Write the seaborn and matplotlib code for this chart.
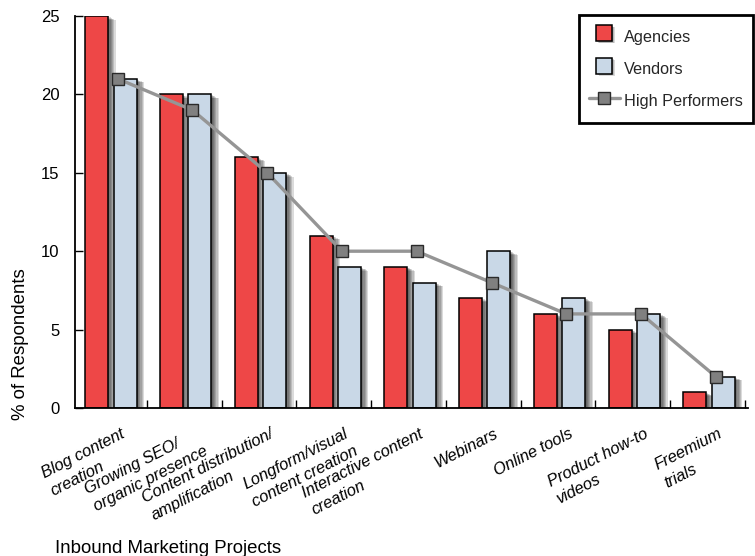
import numpy as np
import pandas as pd
import matplotlib
matplotlib.use("Agg")
import matplotlib.pyplot as plt
import matplotlib.patheffects as pe
from matplotlib.lines import Line2D
import seaborn as sns

# Inbound marketing projects and share of respondents (%)
projects = [
    "Blog content\ncreation",
    "Growing SEO/\norganic presence",
    "Content distribution/\namplification",
    "Longform/visual\ncontent creation",
    "Interactive content\ncreation",
    "Webinars",
    "Online tools",
    "Product how-to\nvideos",
    "Freemium\ntrials",
]
agencies = [25, 20, 16, 11, 9, 7, 6, 5, 1]
vendors = [21, 20, 15, 9, 8, 10, 7, 6, 2]
high_performers = [21, 19, 15, 10, 10, 8, 6, 6, 2]
y_ticks = [0, 5, 10, 15, 20, 25]
series_names = ["Agencies", "Vendors", "High Performers"]

RED = "#EE4747"
BLUE = "#C9D8E7"
LINE_GRAY = "#959595"
MARKER_GRAY = "#808080"

sns.set_theme(style="white")
plt.rcParams["font.family"] = ["Liberation Sans", "DejaVu Sans"]

df = pd.DataFrame({
    "project": projects * 2,
    "group": [series_names[0]] * len(projects) + [series_names[1]] * len(projects),
    "pct": agencies + vendors,
})

fig = plt.figure(figsize=(7.55, 5.56), dpi=100)
ax = fig.add_axes([75 / 755, 148 / 556, 673 / 755, 392 / 556])

sns.barplot(
    data=df, x="project", y="pct", hue="group",
    order=projects, hue_order=series_names[:2],
    palette=[RED, BLUE], saturation=1, width=0.76, gap=0.19,
    edgecolor="black", linewidth=1.1, errorbar=None, legend=False, ax=ax,
)

# soft drop shadow to the lower right of every bar
bar_shadow = [
    pe.SimplePatchShadow(offset=(0.9 * k, -0.45 * k), shadow_rgbFace="black", alpha=0.14)
    for k in range(1, 7)
] + [pe.Normal()]
for patch in ax.patches:
    patch.set_path_effects(bar_shadow)

# high performers trend line, sitting just right of each group centre
hp_x = np.arange(len(projects)) + 0.09
sns.lineplot(
    x=hp_x, y=high_performers, ax=ax, color=LINE_GRAY, linewidth=2.4,
    marker="s", markersize=8, markerfacecolor=MARKER_GRAY,
    markeredgecolor="#2A2A2A", markeredgewidth=1.0, zorder=5,
)

ax.set_xlim(-0.48, len(projects) - 0.48)
ax.set_ylim(0, 25)

# category labels (slanted) plus boundary tick marks between groups
ax.set_xticks(np.arange(len(projects)) + 0.12, labels=projects)
ax.set_xticks(np.arange(len(projects)) + 0.48, minor=True)
ax.tick_params(axis="x", which="major", length=0, pad=13)
ax.tick_params(axis="x", which="minor", direction="in", length=6, width=1.0,
               color="black", bottom=True)
for lbl in ax.get_xticklabels():
    lbl.set_rotation(27)
    lbl.set_ha("right")
    lbl.set_va("top")
    lbl.set_rotation_mode("anchor")
    lbl.set_multialignment("left")
    lbl.set_linespacing(1.4)
    lbl.set_fontstyle("italic")
    lbl.set_fontsize(11.8)
    lbl.set_color("black")

ax.set_yticks(y_ticks)
ax.tick_params(axis="y", direction="in", length=6, width=1.0, color="black",
               pad=11, labelsize=12, labelcolor="black", left=True)

for side in ("top", "right"):
    ax.spines[side].set_visible(False)
for side in ("left", "bottom"):
    ax.spines[side].set_color("black")
    ax.spines[side].set_linewidth(1.3)

ax.set_xlabel("")
ax.set_ylabel("% of Respondents", fontsize=13.4, color="black")
ax.yaxis.set_label_coords(-0.069, 0.163)

fig.text(55 / 755, 1 - 553 / 556, "Inbound Marketing Projects",
         ha="left", va="baseline", fontsize=13.4, color="black")

# legend
handles = [
    Line2D([], [], linestyle="none", marker="s", markersize=11.5,
           markerfacecolor=RED, markeredgecolor="black", markeredgewidth=1.1),
    Line2D([], [], linestyle="none", marker="s", markersize=11.5,
           markerfacecolor=BLUE, markeredgecolor="black", markeredgewidth=1.1),
    Line2D([], [], color=LINE_GRAY, linewidth=2.4, marker="s", markersize=8,
           markerfacecolor=MARKER_GRAY, markeredgecolor="#2A2A2A", markeredgewidth=1.0),
]
leg = fig.legend(
    handles, series_names, loc="upper right",
    bbox_to_anchor=(753 / 755, 1 - 15 / 556), bbox_transform=fig.transFigure,
    frameon=True, fancybox=False, edgecolor="black", framealpha=1,
    fontsize=11.7, handlelength=1.95, handletextpad=0.25, borderpad=0.6,
    handleheight=1.9, labelspacing=0.5, borderaxespad=0,
)
leg.get_frame().set_linewidth(2)
handle_shadow = [
    pe.SimplePatchShadow(offset=(0.7 * k, -0.5 * k), shadow_rgbFace="black", alpha=0.15)
    for k in range(1, 4)
] + [pe.Normal()]
for h in leg.legend_handles[:2]:
    h.set_path_effects(handle_shadow)

fig.savefig("out.png", dpi=100, facecolor="white")
